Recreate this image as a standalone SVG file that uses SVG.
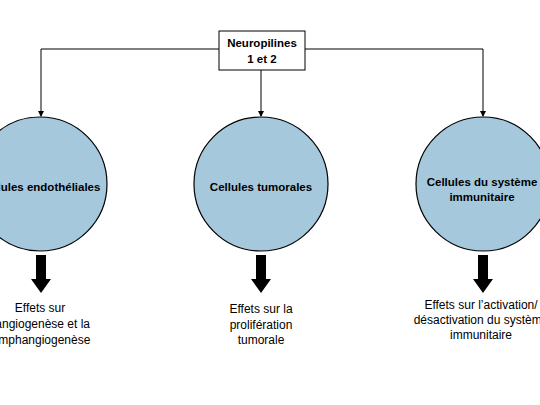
<svg xmlns="http://www.w3.org/2000/svg" width="540" height="405" viewBox="0 0 540 405">
<defs>
<marker id="ah" markerWidth="6" markerHeight="6" refX="5" refY="3" orient="auto" markerUnits="userSpaceOnUse">
<path d="M0,0 L6,3 L0,6 Z" fill="#000"/>
</marker>
<style>
.c{fill:#a5c8dd;stroke:#000;stroke-width:1.2}
.t{font-family:"Liberation Sans",Arial,sans-serif;font-size:11.5px;font-weight:bold;text-anchor:middle;fill:#000}
.b{font-family:"Liberation Sans",Arial,sans-serif;font-size:12px;text-anchor:middle;fill:#000}
.l{fill:none;stroke:#000;stroke-width:1}
</style>
</defs>
<rect width="540" height="405" fill="#fff"/>
<g id="connectors">
<path class="l" d="M219,49 H41 V116" marker-end="url(#ah)"/>
<path class="l" d="M305,49 H483 V116" marker-end="url(#ah)"/>
<path class="l" d="M261,70 V116" marker-end="url(#ah)"/>
<path d="M36,255 H46 V279 H51 L41,293 L31,279 H36 Z" fill="#000"/>
<path d="M256,255 H266 V279 H271 L261,293 L251,279 H256 Z" fill="#000"/>
<path d="M478,255 H488 V279 H493 L483,293 L473,279 H478 Z" fill="#000"/>
</g>
<g id="neuropilines">
<rect x="219" y="31" width="86" height="39" fill="#fff" stroke="#000" stroke-width="1"/>
<text class="t" x="262" y="47">Neuropilines</text>
<text class="t" x="262" y="63">1 et 2</text>
</g>
<g id="endo">
<circle class="c" cx="40" cy="184" r="67"/>
<text class="t" x="40" y="191">Cellules endothéliales</text>
</g>
<g id="tumor">
<circle class="c" cx="261" cy="184" r="67"/>
<text class="t" x="261" y="191">Cellules tumorales</text>
</g>
<g id="immune">
<circle class="c" cx="483" cy="184" r="67"/>
<text class="t" x="482" y="186">Cellules du système</text>
<text class="t" x="482" y="201">immunitaire</text>
</g>
<g id="effet1">
<text class="b" x="40" y="312">Effets sur</text>
<text class="b" x="40" y="328">l’angiogenèse et la</text>
<text class="b" x="40" y="344">lymphangiogenèse</text>
</g>
<g id="effet2">
<text class="b" x="261" y="313">Effets sur la</text>
<text class="b" x="261" y="329">prolifération</text>
<text class="b" x="261" y="344">tumorale</text>
</g>
<g id="effet3">
<text class="b" x="481" y="309">Effets sur l’activation/</text>
<text class="b" x="481" y="324">désactivation du système</text>
<text class="b" x="481" y="339">immunitaire</text>
</g>
</svg>
